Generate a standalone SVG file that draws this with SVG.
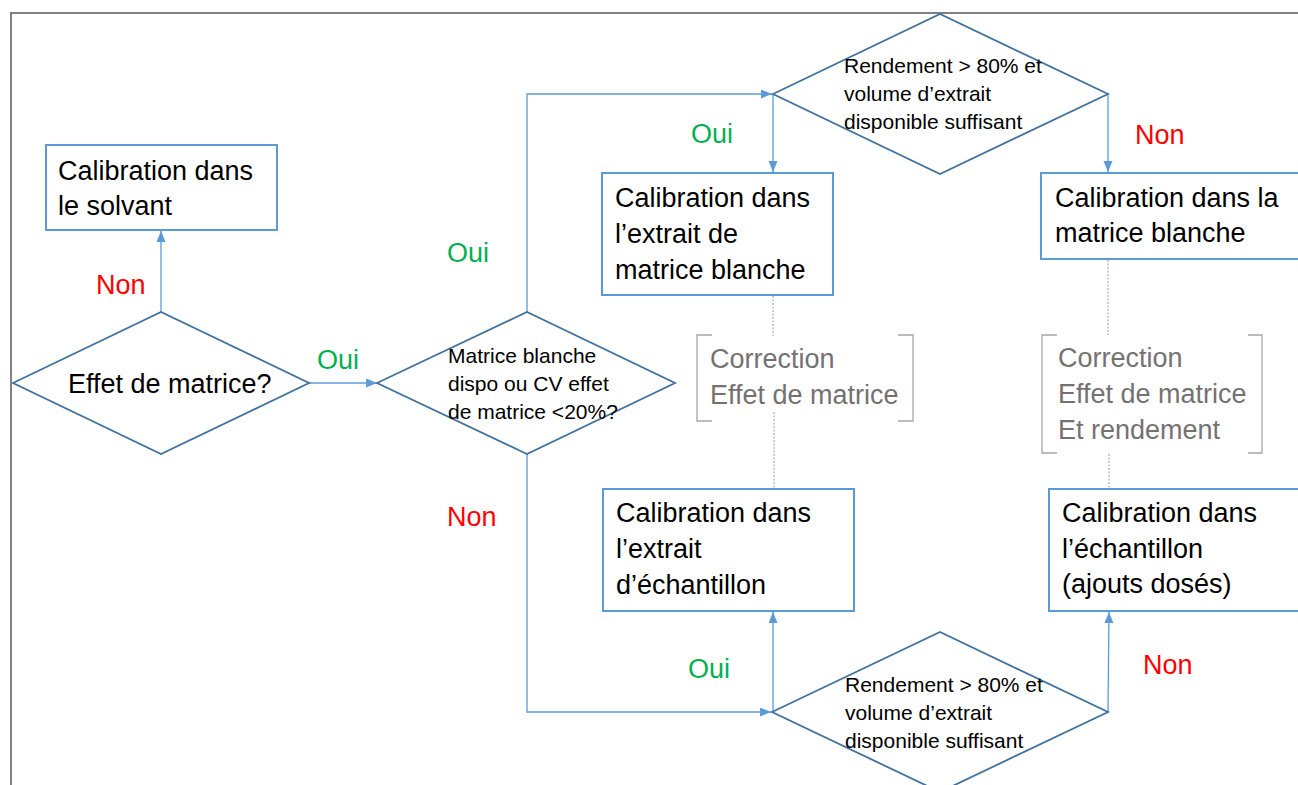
<svg xmlns="http://www.w3.org/2000/svg" width="1298" height="785" viewBox="0 0 1298 785">
<style>
.bg{fill:#ffffff}
.frame{stroke:#808080;stroke-width:2;fill:none}
.box{fill:#ffffff;stroke:#5B9BD5;stroke-width:2}
.dia{fill:#ffffff;stroke:#41719C;stroke-width:1.8}
.con{fill:none;stroke:#5B9BD5;stroke-width:1.3}
.dot{fill:none;stroke:#9a9a9a;stroke-width:1;stroke-dasharray:2 1.5}
.brk{fill:none;stroke:#A6A6A6;stroke-width:1.3}
.t{font-family:"Liberation Sans",Arial,sans-serif;font-size:27px;fill:#000000}
.s{font-family:"Liberation Sans",Arial,sans-serif;font-size:21px;fill:#000000}
.g{font-family:"Liberation Sans",Arial,sans-serif;font-size:27px;fill:#767171}
.oui{font-family:"Liberation Sans",Arial,sans-serif;font-size:27px;fill:#00B050}
.non{font-family:"Liberation Sans",Arial,sans-serif;font-size:27px;fill:#FF0000}
</style>
<defs>
<marker id="arr" markerUnits="userSpaceOnUse" markerWidth="12" markerHeight="10" refX="11" refY="4.5" orient="auto">
<path d="M0,0 L11,4.5 L0,9 z" fill="#5B9BD5"/>
</marker>
</defs>
<rect class="bg" x="0" y="0" width="1298" height="785"/>
<path class="frame" d="M11,786 V13 H1299"/>

<g id="connectors">
<line class="con" x1="161" y1="312" x2="161" y2="231" marker-end="url(#arr)"/>
<line class="con" x1="309" y1="383" x2="377" y2="383" marker-end="url(#arr)"/>
<path class="con" d="M527,312 V94 H772" marker-end="url(#arr)"/>
<line class="con" x1="773" y1="94" x2="773" y2="172" marker-end="url(#arr)"/>
<line class="con" x1="1108" y1="94" x2="1108" y2="172" marker-end="url(#arr)"/>
<path class="con" d="M527,454 V712 H771" marker-end="url(#arr)"/>
<line class="con" x1="773" y1="712" x2="773" y2="612" marker-end="url(#arr)"/>
<line class="con" x1="1108" y1="712" x2="1109" y2="612" marker-end="url(#arr)"/>
<line class="dot" x1="773" y1="296" x2="773" y2="336"/>
<line class="dot" x1="774" y1="412" x2="774" y2="489"/>
<line class="dot" x1="1108" y1="260" x2="1108" y2="335"/>
<line class="dot" x1="1109" y1="454" x2="1109" y2="489"/>
</g>

<g id="label-non-1"><text class="non" x="96" y="294">Non</text></g>
<g id="label-oui-1"><text class="oui" x="317" y="369">Oui</text></g>
<g id="label-oui-2"><text class="oui" x="447" y="262">Oui</text></g>
<g id="label-non-2"><text class="non" x="447" y="526">Non</text></g>
<g id="label-oui-3"><text class="oui" x="691" y="143">Oui</text></g>
<g id="label-non-3"><text class="non" x="1135" y="144">Non</text></g>
<g id="label-oui-4"><text class="oui" x="688" y="678">Oui</text></g>
<g id="label-non-4"><text class="non" x="1143" y="674">Non</text></g>

<g id="box-solvant">
<rect class="box" x="46" y="145" width="231" height="85"/>
<text class="t" x="58" y="180">Calibration dans</text>
<text class="t" x="58" y="215">le solvant</text>
</g>

<g id="dia-effet">
<polygon class="dia" points="13,383 161,312 309,383 161,454"/>
<text class="t" x="68" y="393">Effet de matrice?</text>
</g>

<g id="dia-matrice">
<polygon class="dia" points="377,383 527,312 675,383 527,454"/>
<text class="s" x="448" y="363">Matrice blanche</text>
<text class="s" x="448" y="391">dispo ou CV effet</text>
<text class="s" x="448" y="419">de matrice &lt;20%?</text>
</g>

<g id="dia-rendement-top">
<polygon class="dia" points="773,94 940,14 1108,94 940,174"/>
<text class="s" x="844" y="73">Rendement &gt; 80% et</text>
<text class="s" x="844" y="101">volume d’extrait</text>
<text class="s" x="844" y="129">disponible suffisant</text>
</g>

<g id="box-extrait-blanche">
<rect class="box" x="602" y="173" width="231" height="122"/>
<text class="t" x="615" y="207">Calibration dans</text>
<text class="t" x="615" y="243">l’extrait de</text>
<text class="t" x="615" y="279">matrice blanche</text>
</g>

<g id="box-matrice-blanche">
<rect class="box" x="1041" y="173" width="262" height="86"/>
<text class="t" x="1055" y="207">Calibration dans la</text>
<text class="t" x="1055" y="242">matrice blanche</text>
</g>

<g id="note-correction-1">
<path class="brk" d="M712,335 H697 V421 H712"/>
<path class="brk" d="M898,335 H913 V421 H898"/>
<text class="g" x="710" y="368">Correction</text>
<text class="g" x="710" y="404">Effet de matrice</text>
</g>

<g id="note-correction-2">
<path class="brk" d="M1057,335 H1042 V453 H1057"/>
<path class="brk" d="M1248,335 H1262 V453 H1248"/>
<text class="g" x="1058" y="367">Correction</text>
<text class="g" x="1058" y="403">Effet de matrice</text>
<text class="g" x="1058" y="439">Et rendement</text>
</g>

<g id="box-extrait-echantillon">
<rect class="box" x="603" y="489" width="251" height="122"/>
<text class="t" x="616" y="522">Calibration dans</text>
<text class="t" x="616" y="558">l’extrait</text>
<text class="t" x="616" y="594">d’échantillon</text>
</g>

<g id="box-echantillon">
<rect class="box" x="1049" y="489" width="254" height="122"/>
<text class="t" x="1062" y="522">Calibration dans</text>
<text class="t" x="1062" y="558">l’échantillon</text>
<text class="t" x="1062" y="593">(ajouts dosés)</text>
</g>

<g id="dia-rendement-bottom">
<polygon class="dia" points="772,712 940,632 1108,712 940,792"/>
<text class="s" x="845" y="692">Rendement &gt; 80% et</text>
<text class="s" x="845" y="720">volume d’extrait</text>
<text class="s" x="845" y="748">disponible suffisant</text>
</g>
</svg>
